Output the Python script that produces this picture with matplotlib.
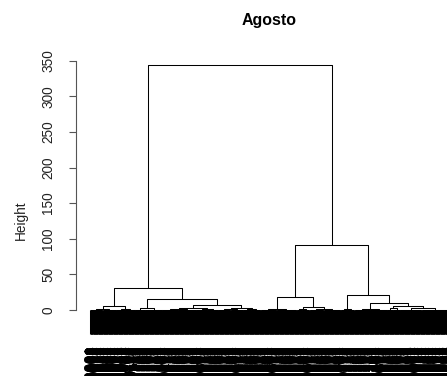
import matplotlib
matplotlib.use("Agg")
import matplotlib.pyplot as plt
from matplotlib.collections import LineCollection

plt.rcParams['font.family'] = ['Liberation Sans', 'DejaVu Sans']

# ---- data ----
title = "Agosto"
ylabel = "Height"
yticks = [0, 50, 100, 150, 200, 250, 300, 350]

# lowest visible leaf bundles: number of leaves and the height they join at
fan_counts = [35, 38, 25, 28, 28, 48, 45, 50, 30, 32, 34, 36, 22, 26,
              45, 56, 16, 20, 40, 47, 18, 21, 44, 48, 17, 19, 60, 74]
fan_heights = [0.5, 0.4, 0.6, 0.4, 0.5, 0.6, 0.4, 0.5, 0.4, 0.6, 0.5, 0.4, 0.6, 0.5,
               0.6, 0.5, 0.4, 0.5, 0.6, 0.4, 0.5, 0.4, 0.6, 0.5, 0.5, 0.6, 0.4, 0.5]

# merge table (R hclust style): negative = fan number, positive = earlier merge row
merge_left = [-1, -3, 1, -5, -7, -9, 5, -11, -13, 8, 7, 4, 3,
              -15, -17, -19, 15, 14, -21, -23, -25, -27, 21, 20, 19, 18, 13]
merge_right = [-2, -4, 2, -6, -8, -10, 6, -12, -14, 9, 10, 11, 12,
               -16, -18, -20, 16, 17, -22, -24, -26, -28, 22, 23, 24, 25, 26]
merge_height = [2.0, 1.5, 5.6, 2.3, 1.0, 1.2, 2.4, 1.4, 1.6, 3.2, 6.6, 15.0, 30.9,
                2.0, 1.2, 2.0, 4.7, 17.8, 1.5, 2.0, 3.0, 3.0, 5.6, 10.3, 20.6, 91.3, 344.0]

# ---- layout ----
W, H = 447, 376
fig = plt.figure(figsize=(W / 100, H / 100), dpi=100)
ax = fig.add_axes([76 / W, 36 / H, 386 / W, 300 / H])

n_leaves = sum(fan_counts)
hang = 0.1 * max(merge_height)

segs = []
label_pos = []
fan_x = []
start = 1
for cnt, h in zip(fan_counts, fan_heights):
    first, last = start, start + cnt - 1
    segs.append([(first, h), (last, h)])
    for i in range(first, last + 1):
        segs.append([(i, h), (i, h - hang)])
        label_pos.append((i, h - hang))
    fan_x.append((first + last) / 2)
    start = last + 1

node_x, node_h = [], []


def child(ref):
    if ref < 0:
        return fan_x[-ref - 1], fan_heights[-ref - 1]
    return node_x[ref - 1], node_h[ref - 1]


for l, r, h in zip(merge_left, merge_right, merge_height):
    x1, h1 = child(l)
    x2, h2 = child(r)
    segs.append([(x1, h1), (x1, h), (x2, h), (x2, h2)])
    node_x.append((x1 + x2) / 2)
    node_h.append(h)

ax.add_collection(LineCollection(segs, colors='black', linewidths=0.75))

for k, (x, yb) in enumerate(label_pos):
    ax.text(x, yb - 14.5, str(10000 + k + 1), rotation=90, ha='center', va='top',
            fontsize=10.7, color='black', clip_on=False)

pad = 0.04 * (n_leaves - 1)
ax.set_xlim(1 - pad, n_leaves + pad)
ax.set_ylim(-(340 - 310) / 0.7123, (310 - 40) / 0.7123)

for s in ['top', 'right', 'bottom']:
    ax.spines[s].set_visible(False)
ax.spines['left'].set_bounds(0, 350)
ax.spines['left'].set_color('#555555')
ax.spines['left'].set_linewidth(0.8)
ax.set_xticks([])
ax.set_yticks(yticks)
ax.set_yticklabels([str(v) for v in yticks], rotation=90, va='center')
ax.tick_params(axis='y', direction='out', length=5, width=0.8, color='#555555',
               labelsize=9.8, labelcolor='#222222', pad=10)

fig.text(269 / W, 1 - 20 / H, title, ha='center', va='center',
         fontsize=11.5, fontweight='bold')
fig.text(21 / W, 1 - 220 / H, ylabel, ha='center', va='center', rotation=90,
         fontsize=9.8, color='#222222')

fig.savefig("out.png", dpi=100)
